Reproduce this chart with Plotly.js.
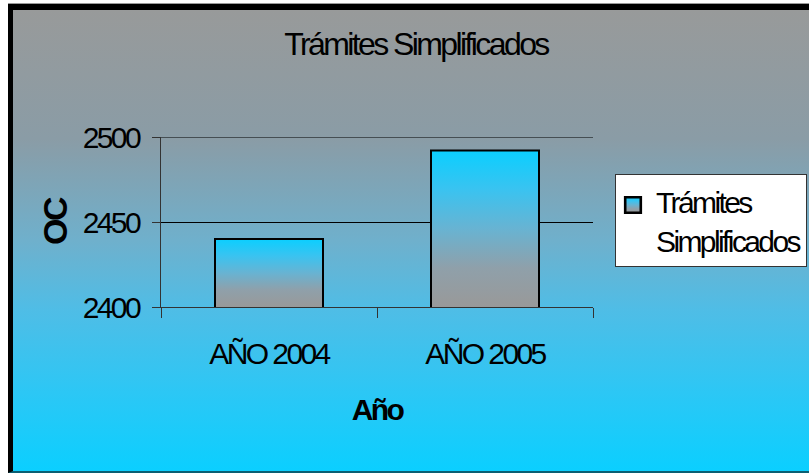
<!DOCTYPE html>
<html>
<head>
<meta charset="utf-8">
<script src="https://cdn.plot.ly/plotly-3.0.1.min.js"></script>
<style>
  html, body { margin: 0; padding: 0; background: #ffffff; width: 809px; height: 473px; overflow: hidden; }
  svg text { letter-spacing: -2.6px; }
  #frame {
    position: absolute; left: 8px; top: 3px; width: 801px; height: 470px;
    border-top: 1px solid #9a9a9a; box-sizing: border-box;
  }
  #bg {
    position: absolute; left: 8px; top: 4px; width: 801px; height: 469px;
    border-top: 6px solid #000; border-left: 5px solid #000; border-bottom: 2px solid #0b5f73;
    box-sizing: border-box;
    background: linear-gradient(to bottom, #989a9a 0%, #8a9ca6 28%, #6fb0cc 50%, #4fbde6 65%, #2cc7f5 83%, #0bcfff 100%);
  }
  #chart { position: absolute; left: 0; top: 0; width: 809px; height: 473px; }
</style>
</head>
<body>
<div id="frame"></div>
<div id="bg"></div>
<div id="chart"></div>
<script>
const categories = ['AÑO 2004', 'AÑO 2005'];
const values = [2440, 2492];
const seriesName = 'Trámites<br>Simplificados';
const yTickValues = [2400, 2450, 2500];
const yTickLabels = ['2400', '2450', '2500'];
const chartTitle = 'Trámites Simplificados';
const xTitle = 'Año';
const yTitle = 'OC';

const FONT = '"Liberation Sans", Arial, sans-serif';
const GRAD_STOPS = [['0', '#0bcfff'], ['0.25', '#3ac3f0'], ['0.5', '#68b3d2'], ['0.75', '#8fa0aa'], ['1', '#999999']];

const trace = {
  type: 'bar',
  x: categories,
  y: values,
  name: seriesName,
  marker: { color: '#7fb6cf', line: { color: '#000000', width: 2 } },
  hoverinfo: 'none'
};

const layout = {
  width: 809, height: 473,
  paper_bgcolor: 'rgba(0,0,0,0)',
  plot_bgcolor: 'rgba(0,0,0,0)',
  margin: { l: 161, r: 216, t: 137, b: 166, pad: 0 },
  font: { family: FONT, color: '#000', size: 30 },
  title: {
    text: chartTitle,
    font: { family: FONT, size: 32, color: '#000' },
    x: 416 / 809, xanchor: 'center', xref: 'container',
    y: 1 - 44 / 473, yanchor: 'middle', yref: 'container'
  },
  bargap: 0.5,
  showlegend: true,
  legend: {
    x: 615 / 809, xref: 'container', xanchor: 'left',
    y: 1 - 174 / 473, yref: 'container', yanchor: 'top',
    bgcolor: '#ffffff', bordercolor: '#333333', borderwidth: 1,
    font: { family: FONT, size: 30, color: '#000' },
    valign: 'top'
  },
  shapes: [{
    type: 'line', xref: 'paper', yref: 'y', layer: 'below',
    x0: 0, x1: 1, y0: yTickValues[yTickValues.length - 1], y1: yTickValues[yTickValues.length - 1],
    line: { color: '#000', width: 1 }
  }],
  xaxis: {
    type: 'category',
    tickson: 'boundaries',
    ticks: 'outside', ticklen: 10, tickcolor: '#333', tickwidth: 1,
    showline: true, linecolor: '#333', linewidth: 1,
    showgrid: false, zeroline: false,
    ticklabelstandoff: 20,
    tickfont: { family: FONT, size: 30, color: '#000' },
    title: { text: '<b>' + xTitle + '</b>', font: { family: FONT, size: 30, color: '#000' }, standoff: 29 }
  },
  yaxis: {
    range: [2400, 2500],
    tickvals: yTickValues, ticktext: yTickLabels,
    ticks: 'outside', ticklen: 8, tickcolor: '#333', tickwidth: 1,
    showline: true, linecolor: '#333', linewidth: 1,
    showgrid: true, gridcolor: '#000', gridwidth: 1,
    zeroline: false,
    ticklabelstandoff: 7,
    tickfont: { family: FONT, size: 30, color: '#000' },
    title: { text: '<b>' + yTitle + '</b>', font: { family: FONT, size: 34, color: '#000' }, standoff: 4 }
  }
};

const NS = 'http://www.w3.org/2000/svg';
const gd = document.getElementById('chart');

function makeGradient(svg, id, userSpace, y1, y2) {
  const defs = svg.querySelector('defs');
  const old = svg.querySelector('#' + id);
  if (old) old.parentNode.removeChild(old);
  const lg = document.createElementNS(NS, 'linearGradient');
  lg.setAttribute('id', id);
  if (userSpace) lg.setAttribute('gradientUnits', 'userSpaceOnUse');
  lg.setAttribute('x1', '0'); lg.setAttribute('x2', '0');
  lg.setAttribute('y1', String(y1)); lg.setAttribute('y2', String(y2));
  GRAD_STOPS.forEach(function (s) {
    const st = document.createElementNS(NS, 'stop');
    st.setAttribute('offset', s[0]);
    st.setAttribute('stop-color', s[1]);
    lg.appendChild(st);
  });
  defs.appendChild(lg);
}

function applyGradient() {
  const svg = gd.querySelector('svg.main-svg');
  if (!svg) return;
  const ya = gd._fullLayout.yaxis;
  const bottomPx = ya.l2p(ya.range[0]);
  gd.querySelectorAll('.barlayer .point path').forEach(function (p, i) {
    const bb = p.getBBox();
    const id = 'barGrad' + i;
    makeGradient(svg, id, true, bb.y, bottomPx);
    p.style.fill = 'url(#' + id + ')';
    p.style.fillOpacity = '1';
  });
  gd.querySelectorAll('.legendpoints path').forEach(function (p, i) {
    if (!p.dataset.scaled) {
      const t = p.getAttribute('transform') || '';
      p.setAttribute('transform', t + ' translate(-3,4) scale(1.3)');
      p.dataset.scaled = '1';
    }
    const id = 'legGrad' + i;
    if (!svg.querySelector('#' + id)) makeGradient(svg, id, false, 0, 1);
    p.style.fill = 'url(#' + id + ')';
    p.style.fillOpacity = '1';
  });
}

Plotly.newPlot(gd, [trace], layout, { displayModeBar: false, staticPlot: true }).then(function () {
  applyGradient();
  gd.on('plotly_afterplot', applyGradient);
});
</script>
</body>
</html>
